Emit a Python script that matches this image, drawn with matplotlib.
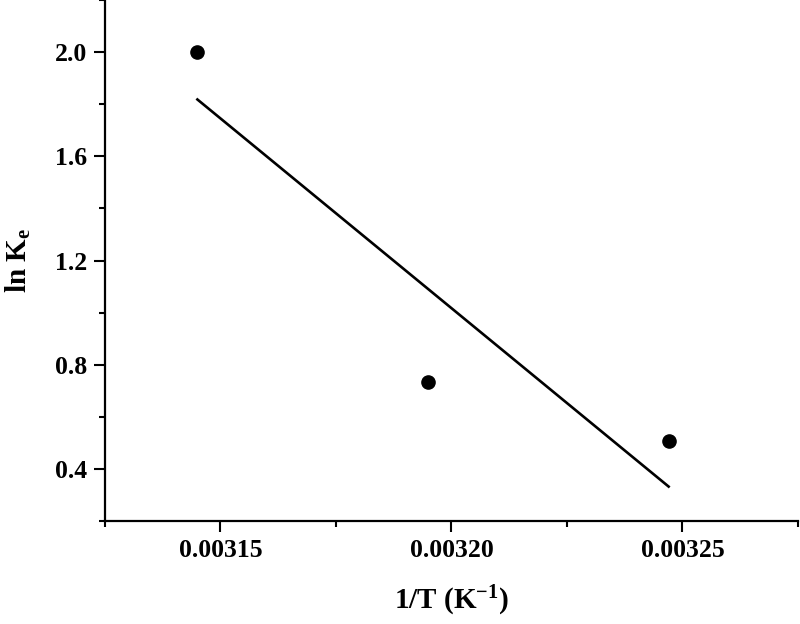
import numpy as np
import matplotlib
matplotlib.use('Agg')
import matplotlib.pyplot as plt
from matplotlib.ticker import MultipleLocator, FormatStrFormatter

inv_T = [0.003145, 0.003195, 0.003247]   # 1/T in 1/K
ln_Ke = [2.00, 0.733, 0.507]             # ln Ke

plt.rcParams['font.family'] = 'Liberation Serif'
plt.rcParams['font.weight'] = 'bold'
plt.rcParams['mathtext.fontset'] = 'custom'
plt.rcParams['mathtext.rm'] = 'Liberation Serif:bold'
plt.rcParams['mathtext.it'] = 'Liberation Serif:bold'
plt.rcParams['mathtext.bf'] = 'Liberation Serif:bold'

fig = plt.figure(figsize=(8.0, 6.24), dpi=100)
ax = fig.add_axes([105/800, 103/624, 693/800, 521/624])

# Punkte
ax.plot(inv_T, ln_Ke, 'o', color='black', markersize=9.5)

# lineare Regression
m, b = np.polyfit(inv_T, ln_Ke, 1)
xf = np.array([min(inv_T), max(inv_T)])
ax.plot(xf, m*xf + b, color='black', linewidth=1.9)

ax.set_xlim(0.003125, 0.003275)
ax.set_ylim(0.2, 2.2)
ax.xaxis.set_major_locator(MultipleLocator(0.00005))
ax.xaxis.set_minor_locator(MultipleLocator(0.000025))
ax.yaxis.set_major_locator(MultipleLocator(0.4))
ax.yaxis.set_minor_locator(MultipleLocator(0.2))
ax.xaxis.set_major_formatter(FormatStrFormatter('%.5f'))
ax.yaxis.set_major_formatter(FormatStrFormatter('%.1f'))

for s in ['top', 'right']:
    ax.spines[s].set_visible(False)
for s in ['left', 'bottom']:
    ax.spines[s].set_linewidth(1.6)

ax.tick_params(which='major', length=8, width=1.5, labelsize=18.5, pad=5)
ax.tick_params(which='minor', length=4.5, width=1.5)

ax.set_xlabel('1/T (K$^{-1}$)', fontsize=21, fontweight='bold')
ax.set_ylabel('ln K$_{e}$', fontsize=21, fontweight='bold')
ax.xaxis.set_label_coords(0.5, -0.12)
ax.yaxis.set_label_coords(-0.104, 0.5)

fig.savefig('out.png', dpi=100)
